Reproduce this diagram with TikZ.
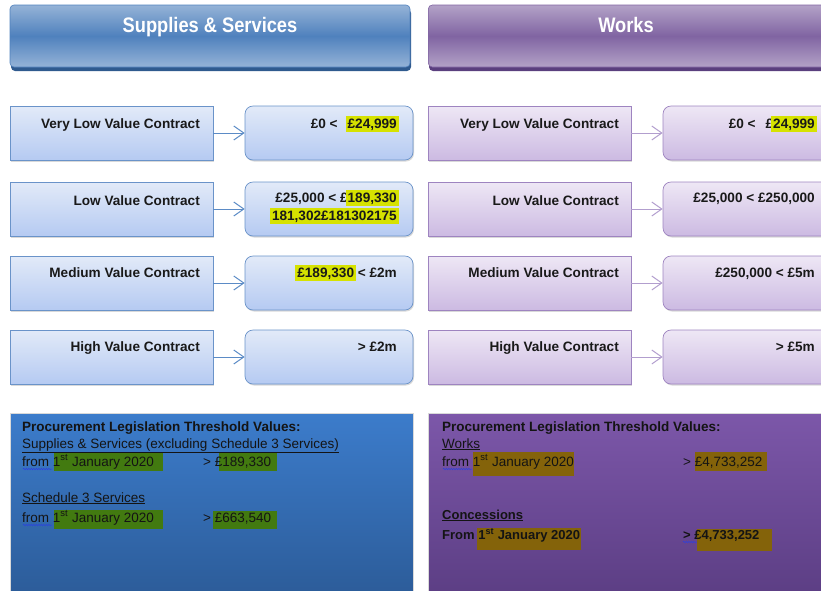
\documentclass[tikz,border=0pt]{standalone}
\usepackage{fontspec}
\setmainfont{Liberation Sans}
\usetikzlibrary{shadows,decorations.pathmorphing,arrows.meta}
\definecolor{hbT}{HTML}{95B3D7}
\definecolor{hbM}{HTML}{4F81BD}
\definecolor{hbD}{HTML}{2F5A8E}
\definecolor{hpT}{HTML}{B3A2C7}
\definecolor{hpM}{HTML}{8064A2}
\definecolor{hpD}{HTML}{5A3F7E}
\definecolor{bxT}{HTML}{E2EAF8}
\definecolor{bxB}{HTML}{B5CAF2}
\definecolor{bxL}{HTML}{6A93C9}
\definecolor{pxT}{HTML}{EEE7F5}
\definecolor{pxB}{HTML}{CCBAE2}
\definecolor{pxL}{HTML}{9E84C0}
\definecolor{arB}{HTML}{5B8BC6}
\definecolor{arP}{HTML}{B29ECE}
\definecolor{pnBT}{HTML}{3C7CCB}
\definecolor{pnBB}{HTML}{2C5C99}
\definecolor{pnPT}{HTML}{7C57A9}
\definecolor{pnPB}{HTML}{5C3E84}
\definecolor{hlY}{HTML}{D6E200}
\definecolor{hlG}{HTML}{427A10}
\definecolor{hlO}{HTML}{84630A}
\definecolor{wav}{HTML}{2B3FE0}
\newlength\hlw
\newcommand\hlt[2]{\settowidth\hlw{#2}\rlap{\hspace{-2pt}\smash{\textcolor{#1}{\rule[-4pt]{\dimexpr\hlw+4pt\relax}{16pt}}}}#2}
\begin{document}
\begin{tikzpicture}[x=1pt,y=-1pt,
 lbl/.style={font=\bfseries\fontsize{13.6}{15}\selectfont, anchor=base east, inner sep=0, text=black!90},
 btxt/.style={font=\fontsize{13.5}{15}\selectfont, anchor=base west, inner sep=0, text=black!92},
 bbtxt/.style={btxt, font=\bfseries\fontsize{13.5}{15}\selectfont},
 bbtxtn/.style={btxt, font=\bfseries\fontsize{13}{15}\selectfont},
 sbox/.style={draw=bxL, line width=0.7pt, top color=bxT, bottom color=bxB, minimum width=203pt, minimum height=54pt, inner sep=0, drop shadow={shadow xshift=1pt, shadow yshift=-1.5pt, opacity=0.3}},
 svbox/.style={sbox, rounded corners=8pt, minimum width=168pt},
 wbox/.style={sbox, draw=pxL, top color=pxT, bottom color=pxB},
 wvbox/.style={wbox, rounded corners=8pt, minimum width=168pt},
 arS/.style={draw=arB, line width=1pt, -{Straight Barb[length=10pt,width=14pt]}},
 arW/.style={arS, draw=arP},
 hdr/.style={line width=0.6pt, rounded corners=4pt, minimum height=62pt, inner sep=0},
 hdrtxt/.style={text=white, anchor=base, inner sep=0, font=\bfseries\fontsize{21}{24}\selectfont},
 wavy/.style={draw=wav, line width=0.5pt, decorate, decoration={snake, amplitude=0.7pt, segment length=2.5pt}},
]
\useasboundingbox (0,0) rectangle (821,590);
\clip (0,0) rectangle (821,590);

% headers
\fill[hbD, rounded corners=4pt] (11,9) rectangle (411,71);
\node[hdr, draw=hbM, top color=hbT, bottom color=hbT, middle color=hbM, minimum width=400pt] (hs) at (210,36) {};
\node[hdrtxt] (hst) at (210,32) {\scalebox{0.87}[1]{Supplies \& Services}};
\fill[hpD, rounded corners=4pt] (429,9) rectangle (840,71);
\node[hdr, draw=hpM, top color=hpT, bottom color=hpT, middle color=hpM, minimum width=410pt, anchor=west] (hw) at (428,36) {};
\node[hdrtxt] (hwt) at (626,32) {\scalebox{0.87}[1]{Works}};

% supplies rows
\node[sbox] (sl1) at (111.5,133) {};
\node[svbox] (sv1) at (329,133) {};
\draw[arS] (sl1) -- (sv1);
\node[lbl] (slt1) at (200,128) {Very Low Value Contract};
\node[lbl] (svt1) at (397,128) {£0 <\hspace{10pt}\hlt{hlY}{£24,999}};

\node[sbox] (sl2) at (111.5,209) {};
\node[svbox] (sv2) at (329,209) {};
\draw[arS] (sl2) -- (sv2);
\node[lbl] (slt2) at (200,205) {Low Value Contract};
\node[lbl] (svt2a) at (397,202) {£25,000 < £\hlt{hlY}{189,330}};
\node[lbl] (svt2b) at (397,220) {\hlt{hlY}{181,302£181302175}};

\node[sbox] (sl3) at (111.5,283) {};
\node[svbox] (sv3) at (329,283) {};
\draw[arS] (sl3) -- (sv3);
\node[lbl] (slt3) at (200,277) {Medium Value Contract};
\node[lbl] (svt3) at (397,277) {\hlt{hlY}{£189,330} < £2m};

\node[sbox] (sl4) at (111.5,357) {};
\node[svbox] (sv4) at (329,357) {};
\draw[arS] (sl4) -- (sv4);
\node[lbl] (slt4) at (200,351) {High Value Contract};
\node[lbl] (svt4) at (397,351) {> £2m};

% works rows
\node[wbox] (wl1) at (529.5,133) {};
\node[wvbox] (wv1) at (747,133) {};
\draw[arW] (wl1) -- (wv1);
\node[lbl] (wlt1) at (619,128) {Very Low Value Contract};
\node[lbl] (wvt1) at (815,128) {£0 <\hspace{10pt}£\hlt{hlY}{24,999}};

\node[wbox] (wl2) at (529.5,209) {};
\node[wvbox] (wv2) at (747,209) {};
\draw[arW] (wl2) -- (wv2);
\node[lbl] (wlt2) at (619,205) {Low Value Contract};
\node[lbl] (wvt2) at (815,202) {£25,000 < £250,000};

\node[wbox] (wl3) at (529.5,283) {};
\node[wvbox] (wv3) at (747,283) {};
\draw[arW] (wl3) -- (wv3);
\node[lbl] (wlt3) at (619,277) {Medium Value Contract};
\node[lbl] (wvt3) at (815,277) {£250,000 < £5m};

\node[wbox] (wl4) at (529.5,357) {};
\node[wvbox] (wv4) at (747,357) {};
\draw[arW] (wl4) -- (wv4);
\node[lbl] (wlt4) at (619,351) {High Value Contract};
\node[lbl] (wvt4) at (815,351) {> £5m};

% bottom panels
\node[draw=gray!30, line width=0.6pt, top color=pnBT, bottom color=pnBB, minimum width=403pt, minimum height=182pt, inner sep=0, anchor=north west] (pl) at (10,413) {};
\node[draw=gray!30, line width=0.6pt, top color=pnPT, bottom color=pnPB, minimum width=400pt, minimum height=182pt, inner sep=0, anchor=north west] (pr) at (428,413) {};

% left panel
\fill[hlG] (54,452) rectangle (163,471);
\fill[hlG] (219,452) rectangle (277,471);
\fill[hlG] (54,510) rectangle (163,529);
\fill[hlG] (213,511) rectangle (277,529);
\node[bbtxt] (pl1) at (22,431) {Procurement Legislation Threshold Values:};
\node[btxt] (pl2) at (22,448) {\underline{Supplies \& Services (excluding Schedule 3 Services)}};
\node[btxt] (pl3) at (22,466) {from 1\textsuperscript{st} January 2020};
\node[btxt] (pl3v) at (203,466) {> £189,330};
\draw[wavy] (23,469) -- (52,469);
\node[btxt] (pl4) at (22,502) {\underline{Schedule 3 Services}};
\node[btxt] (pl5) at (22,522) {from 1\textsuperscript{st} January 2020};
\node[btxt] (pl5v) at (203,522) {> £663,540};
\draw[wavy] (23,525) -- (52,525);

% right panel
\fill[hlO] (473,452) rectangle (574,476);
\fill[hlO] (695,452) rectangle (767,471);
\fill[hlO] (477,528) rectangle (581,550);
\fill[hlO] (697,529) rectangle (772,551);
\node[bbtxt] (pr1) at (442,431) {Procurement Legislation Threshold Values:};
\node[btxt] (pr2) at (442,448) {\underline{Works}};
\node[btxt] (pr3) at (442,466) {from 1\textsuperscript{st} January 2020};
\node[btxt] (pr3v) at (683,466) {> £4,733,252};
\draw[wavy] (443,469) -- (472,469);
\node[bbtxtn] (pr4) at (442,519) {\underline{Concessions}};
\node[bbtxtn] (pr5) at (442,539) {From 1\textsuperscript{st} January 2020};
\node[bbtxtn] (pr5v) at (683,539) {> £4,733,252};
\draw[wavy] (683,542) -- (697,542);
\end{tikzpicture}
\end{document}
